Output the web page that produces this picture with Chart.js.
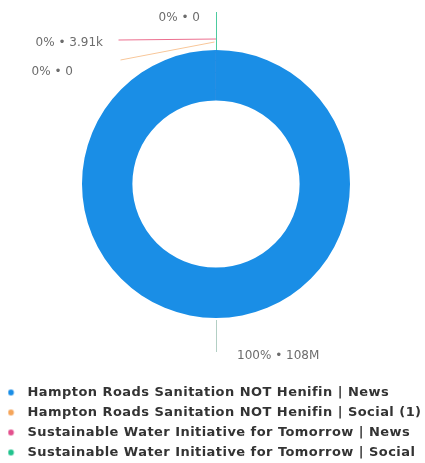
<!DOCTYPE html>
<html>
<head>
<meta charset="utf-8">
<script src="https://cdn.jsdelivr.net/npm/chart.js@4"></script>
<style>
  html, body { margin: 0; padding: 0; background: #ffffff; }
  #wrap { width: 425px; height: 463px; position: relative; }
</style>
</head>
<body>
<div id="wrap"><canvas id="c" width="425" height="463"></canvas></div>
<script>
// ---- data ----
const categories = [
  'Hampton Roads Sanitation NOT Henifin | News',
  'Hampton Roads Sanitation NOT Henifin | Social (1)',
  'Sustainable Water Initiative for Tomorrow | News',
  'Sustainable Water Initiative for Tomorrow | Social'
];
const values = [108000000, 0, 3910, 0];
const colors = ['#1a8ee6', '#f5a55a', '#e3508e', '#22c38e'];
const leaderColors = ['#b3cfc4', '#f8c79a', '#ec6f8f', '#4ccb9f'];

// ---- helpers ----
function fmt(v) {
  if (v >= 1e6) return Math.round(v / 1e6) + 'M';
  if (v >= 1e3) return (v / 1e3).toFixed(2) + 'k';
  return String(v);
}
function dotImage(color) {
  const c = document.createElement('canvas');
  c.width = 20; c.height = 8;
  const g = c.getContext('2d');
  g.fillStyle = color;
  g.beginPath();
  g.arc(3.5, 4, 2.9, 0, Math.PI * 2);
  g.fill();
  return c;
}

// leader layout relative to the arc's outer point at its mid angle
const leaderLayout = [
  { path: [[0, 2], [0, 34]], text: [21, 38, 'left'] },
  { path: [[-2, -8], [-96, 10]], text: [-143, 22, 'right'] },
  { path: [[0, 0], [0, -11], [-98, -10]], text: [-113, -7, 'right'] },
  { path: [[0, 0], [0, -38]], text: [-16, -32, 'right'] }
];

const spacingPlugin = {
  id: 'legendSpacing',
  beforeDraw(chart) { chart.ctx.letterSpacing = '0.45px'; }
};

const leaderPlugin = {
  id: 'leaderLabels',
  afterDatasetsDraw(chart) {
    const ctx = chart.ctx;
    const meta = chart.getDatasetMeta(0);
    const data = chart.data.datasets[0].data;
    const total = data.reduce((a, b) => a + b, 0);
    meta.data.forEach((arc, i) => {
      const p = arc.getProps(['x', 'y', 'startAngle', 'endAngle', 'outerRadius'], true);
      const mid = (p.startAngle + p.endAngle) / 2;
      const ex = p.x + Math.cos(mid) * p.outerRadius;
      const ey = p.y + Math.sin(mid) * p.outerRadius;
      const L = leaderLayout[i];
      ctx.save();
      ctx.letterSpacing = '0px';
      ctx.strokeStyle = leaderColors[i];
      ctx.lineWidth = 1;
      ctx.beginPath();
      L.path.forEach(([dx, dy], k) => {
        const X = Math.round(ex + dx) + 0.5, Y = ey + dy;
        if (k === 0) ctx.moveTo(X, Y); else ctx.lineTo(X, Y);
      });
      ctx.stroke();
      const pct = Math.round(data[i] / total * 100) + '%';
      ctx.fillStyle = '#6c6c6c';
      ctx.font = '12px "DejaVu Sans", sans-serif';
      ctx.textAlign = L.text[2];
      ctx.textBaseline = 'middle';
      ctx.fillText(pct + ' \u2022 ' + fmt(data[i]), ex + L.text[0], ey + L.text[1]);
      ctx.restore();
    });
  }
};

new Chart(document.getElementById('c'), {
  type: 'doughnut',
  data: {
    labels: categories,
    datasets: [{
      data: values,
      backgroundColor: colors,
      borderWidth: 0,
      radius: 134,
      cutout: 83
    }]
  },
  options: {
    responsive: false,
    animation: false,
    layout: { padding: { top: 51, left: 7, right: 0, bottom: -6 } },
    plugins: {
      tooltip: { enabled: false },
      legend: {
        position: 'bottom',
        align: 'start',
        title: { display: true, text: ' ', font: { size: 10, lineHeight: 1 }, padding: { top: 52, bottom: 0 } },
        labels: {
          usePointStyle: true,
          boxWidth: 7,
          padding: 7,
          color: '#333333',
          font: { family: '"DejaVu Sans", sans-serif', size: 13, weight: 'bold' },
          generateLabels(chart) {
            return chart.data.labels.map((t, i) => ({
              text: t,
              fillStyle: colors[i],
              strokeStyle: colors[i],
              lineWidth: 0,
              pointStyle: dotImage(colors[i]),
              fontColor: '#333333',
              hidden: false,
              index: i
            }));
          }
        }
      }
    }
  },
  plugins: [spacingPlugin, leaderPlugin]
});
</script>
</body>
</html>
